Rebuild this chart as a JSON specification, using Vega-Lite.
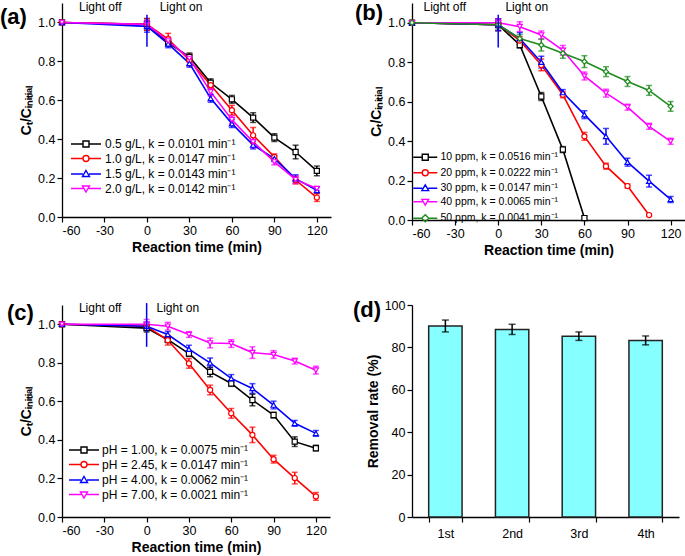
{
  "$schema": "https://vega.github.io/schema/vega-lite/v6.json",
  "background": "white",
  "padding": {"left": 0, "top": 1, "right": 1, "bottom": 1},
  "columns": 2,
  "bounds": "flush",
  "align": "each",
  "spacing": {"row": 85, "column": 81},
  "resolve": {"scale": {"color": "independent", "stroke": "independent", "shape": "independent"}, "legend": {"color": "independent", "stroke": "independent", "shape": "independent"}},
  "datasets": {
    "a": [
      {"t": -60, "s": "0.5 g/L, k = 0.0101 min⁻¹", "v": 1.0, "e": 0},
      {"t": 0, "s": "0.5 g/L, k = 0.0101 min⁻¹", "v": 0.99, "e": 0.03},
      {"t": 15, "s": "0.5 g/L, k = 0.0101 min⁻¹", "v": 0.895, "e": 0.015},
      {"t": 30, "s": "0.5 g/L, k = 0.0101 min⁻¹", "v": 0.823, "e": 0.02},
      {"t": 45, "s": "0.5 g/L, k = 0.0101 min⁻¹", "v": 0.69, "e": 0.02},
      {"t": 60, "s": "0.5 g/L, k = 0.0101 min⁻¹", "v": 0.605, "e": 0.02},
      {"t": 75, "s": "0.5 g/L, k = 0.0101 min⁻¹", "v": 0.511, "e": 0.025},
      {"t": 90, "s": "0.5 g/L, k = 0.0101 min⁻¹", "v": 0.408, "e": 0.02},
      {"t": 105, "s": "0.5 g/L, k = 0.0101 min⁻¹", "v": 0.334, "e": 0.035},
      {"t": 120, "s": "0.5 g/L, k = 0.0101 min⁻¹", "v": 0.237, "e": 0.025},
      {"t": -60, "s": "1.0 g/L, k = 0.0147 min⁻¹", "v": 1.0, "e": 0},
      {"t": 0, "s": "1.0 g/L, k = 0.0147 min⁻¹", "v": 0.99, "e": 0.03},
      {"t": 15, "s": "1.0 g/L, k = 0.0147 min⁻¹", "v": 0.914, "e": 0.03},
      {"t": 30, "s": "1.0 g/L, k = 0.0147 min⁻¹", "v": 0.806, "e": 0.03},
      {"t": 45, "s": "1.0 g/L, k = 0.0147 min⁻¹", "v": 0.678, "e": 0.02},
      {"t": 60, "s": "1.0 g/L, k = 0.0147 min⁻¹", "v": 0.549, "e": 0.025},
      {"t": 75, "s": "1.0 g/L, k = 0.0147 min⁻¹", "v": 0.42, "e": 0.04},
      {"t": 90, "s": "1.0 g/L, k = 0.0147 min⁻¹", "v": 0.309, "e": 0.015},
      {"t": 105, "s": "1.0 g/L, k = 0.0147 min⁻¹", "v": 0.19, "e": 0.02},
      {"t": 120, "s": "1.0 g/L, k = 0.0147 min⁻¹", "v": 0.10, "e": 0.02},
      {"t": -60, "s": "1.5 g/L, k = 0.0143 min⁻¹", "v": 1.0, "e": 0},
      {"t": 0, "s": "1.5 g/L, k = 0.0143 min⁻¹", "v": 0.98, "e": 0.03},
      {"t": 15, "s": "1.5 g/L, k = 0.0143 min⁻¹", "v": 0.89, "e": 0.02},
      {"t": 30, "s": "1.5 g/L, k = 0.0143 min⁻¹", "v": 0.79, "e": 0.02},
      {"t": 45, "s": "1.5 g/L, k = 0.0143 min⁻¹", "v": 0.61, "e": 0.02},
      {"t": 60, "s": "1.5 g/L, k = 0.0143 min⁻¹", "v": 0.48, "e": 0.02},
      {"t": 75, "s": "1.5 g/L, k = 0.0143 min⁻¹", "v": 0.37, "e": 0.02},
      {"t": 90, "s": "1.5 g/L, k = 0.0143 min⁻¹", "v": 0.30, "e": 0.015},
      {"t": 105, "s": "1.5 g/L, k = 0.0143 min⁻¹", "v": 0.197, "e": 0.02},
      {"t": 120, "s": "1.5 g/L, k = 0.0143 min⁻¹", "v": 0.137, "e": 0.015},
      {"t": -60, "s": "2.0 g/L, k = 0.0142 min⁻¹", "v": 1.0, "e": 0},
      {"t": 0, "s": "2.0 g/L, k = 0.0142 min⁻¹", "v": 0.99, "e": 0.02},
      {"t": 15, "s": "2.0 g/L, k = 0.0142 min⁻¹", "v": 0.905, "e": 0.02},
      {"t": 30, "s": "2.0 g/L, k = 0.0142 min⁻¹", "v": 0.815, "e": 0.02},
      {"t": 45, "s": "2.0 g/L, k = 0.0142 min⁻¹", "v": 0.643, "e": 0.02},
      {"t": 60, "s": "2.0 g/L, k = 0.0142 min⁻¹", "v": 0.50, "e": 0.02},
      {"t": 75, "s": "2.0 g/L, k = 0.0142 min⁻¹", "v": 0.386, "e": 0.03},
      {"t": 90, "s": "2.0 g/L, k = 0.0142 min⁻¹", "v": 0.283, "e": 0.015},
      {"t": 105, "s": "2.0 g/L, k = 0.0142 min⁻¹", "v": 0.192, "e": 0.02},
      {"t": 120, "s": "2.0 g/L, k = 0.0142 min⁻¹", "v": 0.146, "e": 0.01}
    ],
    "b": [
      {"t": -60, "s": "10 ppm, k = 0.0516 min⁻¹", "v": 1.0, "e": 0},
      {"t": 0, "s": "10 ppm, k = 0.0516 min⁻¹", "v": 0.99, "e": 0.03},
      {"t": 15, "s": "10 ppm, k = 0.0516 min⁻¹", "v": 0.887, "e": 0.015},
      {"t": 30, "s": "10 ppm, k = 0.0516 min⁻¹", "v": 0.626, "e": 0.02},
      {"t": 45, "s": "10 ppm, k = 0.0516 min⁻¹", "v": 0.357, "e": 0.015},
      {"t": 60, "s": "10 ppm, k = 0.0516 min⁻¹", "v": 0.01, "e": 0.01},
      {"t": -60, "s": "20 ppm, k = 0.0222 min⁻¹", "v": 1.0, "e": 0},
      {"t": 0, "s": "20 ppm, k = 0.0222 min⁻¹", "v": 0.99, "e": 0.03},
      {"t": 15, "s": "20 ppm, k = 0.0222 min⁻¹", "v": 0.91, "e": 0.02},
      {"t": 30, "s": "20 ppm, k = 0.0222 min⁻¹", "v": 0.786, "e": 0.03},
      {"t": 45, "s": "20 ppm, k = 0.0222 min⁻¹", "v": 0.635, "e": 0.015},
      {"t": 60, "s": "20 ppm, k = 0.0222 min⁻¹", "v": 0.424, "e": 0.02},
      {"t": 75, "s": "20 ppm, k = 0.0222 min⁻¹", "v": 0.273, "e": 0.015},
      {"t": 90, "s": "20 ppm, k = 0.0222 min⁻¹", "v": 0.172, "e": 0.01},
      {"t": 105, "s": "20 ppm, k = 0.0222 min⁻¹", "v": 0.025, "e": 0.005},
      {"t": -60, "s": "30 ppm, k = 0.0147 min⁻¹", "v": 1.0, "e": 0},
      {"t": 0, "s": "30 ppm, k = 0.0147 min⁻¹", "v": 0.99, "e": 0.03},
      {"t": 15, "s": "30 ppm, k = 0.0147 min⁻¹", "v": 0.92, "e": 0.03},
      {"t": 30, "s": "30 ppm, k = 0.0147 min⁻¹", "v": 0.80, "e": 0.03},
      {"t": 45, "s": "30 ppm, k = 0.0147 min⁻¹", "v": 0.646, "e": 0.015},
      {"t": 60, "s": "30 ppm, k = 0.0147 min⁻¹", "v": 0.534, "e": 0.02},
      {"t": 75, "s": "30 ppm, k = 0.0147 min⁻¹", "v": 0.424, "e": 0.04},
      {"t": 90, "s": "30 ppm, k = 0.0147 min⁻¹", "v": 0.293, "e": 0.02},
      {"t": 105, "s": "30 ppm, k = 0.0147 min⁻¹", "v": 0.197, "e": 0.03},
      {"t": 120, "s": "30 ppm, k = 0.0147 min⁻¹", "v": 0.104, "e": 0.015},
      {"t": -60, "s": "40 ppm, k = 0.0065 min⁻¹", "v": 1.0, "e": 0},
      {"t": 0, "s": "40 ppm, k = 0.0065 min⁻¹", "v": 1.0, "e": 0.02},
      {"t": 15, "s": "40 ppm, k = 0.0065 min⁻¹", "v": 0.98, "e": 0.025},
      {"t": 30, "s": "40 ppm, k = 0.0065 min⁻¹", "v": 0.938, "e": 0.02},
      {"t": 45, "s": "40 ppm, k = 0.0065 min⁻¹", "v": 0.86, "e": 0.025},
      {"t": 60, "s": "40 ppm, k = 0.0065 min⁻¹", "v": 0.73, "e": 0.02},
      {"t": 75, "s": "40 ppm, k = 0.0065 min⁻¹", "v": 0.643, "e": 0.02},
      {"t": 90, "s": "40 ppm, k = 0.0065 min⁻¹", "v": 0.572, "e": 0.015},
      {"t": 105, "s": "40 ppm, k = 0.0065 min⁻¹", "v": 0.475, "e": 0.015},
      {"t": 120, "s": "40 ppm, k = 0.0065 min⁻¹", "v": 0.399, "e": 0.015},
      {"t": -60, "s": "50 ppm, k = 0.0041 min⁻¹", "v": 1.0, "e": 0},
      {"t": 0, "s": "50 ppm, k = 0.0041 min⁻¹", "v": 0.99, "e": 0.02},
      {"t": 15, "s": "50 ppm, k = 0.0041 min⁻¹", "v": 0.92, "e": 0.02},
      {"t": 30, "s": "50 ppm, k = 0.0041 min⁻¹", "v": 0.887, "e": 0.03},
      {"t": 45, "s": "50 ppm, k = 0.0041 min⁻¹", "v": 0.845, "e": 0.025},
      {"t": 60, "s": "50 ppm, k = 0.0041 min⁻¹", "v": 0.803, "e": 0.03},
      {"t": 75, "s": "50 ppm, k = 0.0041 min⁻¹", "v": 0.752, "e": 0.025},
      {"t": 90, "s": "50 ppm, k = 0.0041 min⁻¹", "v": 0.702, "e": 0.025},
      {"t": 105, "s": "50 ppm, k = 0.0041 min⁻¹", "v": 0.657, "e": 0.025},
      {"t": 120, "s": "50 ppm, k = 0.0041 min⁻¹", "v": 0.576, "e": 0.025}
    ],
    "c": [
      {"t": -60, "s": "pH = 1.00, k = 0.0075 min⁻¹", "v": 1.0, "e": 0},
      {"t": 0, "s": "pH = 1.00, k = 0.0075 min⁻¹", "v": 0.98, "e": 0.02},
      {"t": 15, "s": "pH = 1.00, k = 0.0075 min⁻¹", "v": 0.92, "e": 0.015},
      {"t": 30, "s": "pH = 1.00, k = 0.0075 min⁻¹", "v": 0.848, "e": 0.015},
      {"t": 45, "s": "pH = 1.00, k = 0.0075 min⁻¹", "v": 0.753, "e": 0.025},
      {"t": 60, "s": "pH = 1.00, k = 0.0075 min⁻¹", "v": 0.693, "e": 0.015},
      {"t": 75, "s": "pH = 1.00, k = 0.0075 min⁻¹", "v": 0.607, "e": 0.03},
      {"t": 90, "s": "pH = 1.00, k = 0.0075 min⁻¹", "v": 0.529, "e": 0.015},
      {"t": 105, "s": "pH = 1.00, k = 0.0075 min⁻¹", "v": 0.391, "e": 0.025},
      {"t": 120, "s": "pH = 1.00, k = 0.0075 min⁻¹", "v": 0.357, "e": 0.015},
      {"t": -60, "s": "pH = 2.45, k = 0.0147 min⁻¹", "v": 1.0, "e": 0},
      {"t": 0, "s": "pH = 2.45, k = 0.0147 min⁻¹", "v": 0.99, "e": 0.02},
      {"t": 15, "s": "pH = 2.45, k = 0.0147 min⁻¹", "v": 0.917, "e": 0.025},
      {"t": 30, "s": "pH = 2.45, k = 0.0147 min⁻¹", "v": 0.797, "e": 0.025},
      {"t": 45, "s": "pH = 2.45, k = 0.0147 min⁻¹", "v": 0.659, "e": 0.025},
      {"t": 60, "s": "pH = 2.45, k = 0.0147 min⁻¹", "v": 0.538, "e": 0.025},
      {"t": 75, "s": "pH = 2.45, k = 0.0147 min⁻¹", "v": 0.426, "e": 0.04},
      {"t": 90, "s": "pH = 2.45, k = 0.0147 min⁻¹", "v": 0.30, "e": 0.02},
      {"t": 105, "s": "pH = 2.45, k = 0.0147 min⁻¹", "v": 0.202, "e": 0.03},
      {"t": 120, "s": "pH = 2.45, k = 0.0147 min⁻¹", "v": 0.107, "e": 0.02},
      {"t": -60, "s": "pH = 4.00, k = 0.0062 min⁻¹", "v": 1.0, "e": 0},
      {"t": 0, "s": "pH = 4.00, k = 0.0062 min⁻¹", "v": 0.99, "e": 0.02},
      {"t": 15, "s": "pH = 4.00, k = 0.0062 min⁻¹", "v": 0.947, "e": 0.015},
      {"t": 30, "s": "pH = 4.00, k = 0.0062 min⁻¹", "v": 0.871, "e": 0.02},
      {"t": 45, "s": "pH = 4.00, k = 0.0062 min⁻¹", "v": 0.80, "e": 0.025},
      {"t": 60, "s": "pH = 4.00, k = 0.0062 min⁻¹", "v": 0.719, "e": 0.02},
      {"t": 75, "s": "pH = 4.00, k = 0.0062 min⁻¹", "v": 0.667, "e": 0.025},
      {"t": 90, "s": "pH = 4.00, k = 0.0062 min⁻¹", "v": 0.581, "e": 0.02},
      {"t": 105, "s": "pH = 4.00, k = 0.0062 min⁻¹", "v": 0.486, "e": 0.015},
      {"t": 120, "s": "pH = 4.00, k = 0.0062 min⁻¹", "v": 0.434, "e": 0.015},
      {"t": -60, "s": "pH = 7.00, k = 0.0021 min⁻¹", "v": 1.0, "e": 0},
      {"t": 0, "s": "pH = 7.00, k = 0.0021 min⁻¹", "v": 1.0, "e": 0.025},
      {"t": 15, "s": "pH = 7.00, k = 0.0021 min⁻¹", "v": 0.99, "e": 0.02},
      {"t": 30, "s": "pH = 7.00, k = 0.0021 min⁻¹", "v": 0.947, "e": 0.015},
      {"t": 45, "s": "pH = 7.00, k = 0.0021 min⁻¹", "v": 0.903, "e": 0.025},
      {"t": 60, "s": "pH = 7.00, k = 0.0021 min⁻¹", "v": 0.90, "e": 0.02},
      {"t": 75, "s": "pH = 7.00, k = 0.0021 min⁻¹", "v": 0.853, "e": 0.03},
      {"t": 90, "s": "pH = 7.00, k = 0.0021 min⁻¹", "v": 0.843, "e": 0.02},
      {"t": 105, "s": "pH = 7.00, k = 0.0021 min⁻¹", "v": 0.809, "e": 0.015},
      {"t": 120, "s": "pH = 7.00, k = 0.0021 min⁻¹", "v": 0.762, "e": 0.02}
    ],
    "d": [
      {"run": "1st", "rate": 90.1, "err": 2.8},
      {"run": "2nd", "rate": 88.5, "err": 2.4},
      {"run": "3rd", "rate": 85.3, "err": 2.0},
      {"run": "4th", "rate": 83.3, "err": 2.1}
    ]
  },
  "concat": [
    {
      "width": 269, "height": 214,
      "title": {"text": "(a)", "anchor": "start", "frame": "group", "offset": -50, "baseline": "bottom", "dx": -62, "fontSize": 22, "fontWeight": "bold", "color": "#000"},
      "data": {"name": "a"},
      "encoding": {
        "x": {"field": "t", "type": "quantitative", "scale": {"domain": [-60, 130], "nice": false}, "axis": {"title": "Reaction time (min)", "values": [-60, -30, 0, 30, 60, 90, 120], "labelExpr": "'' + datum.value"}},
        "y": {"field": "v", "type": "quantitative", "scale": {"domain": [0, 1.1], "nice": false}, "axis": {"title": "Cₜ/Cᵢₙᵢₜᵢₐₗ", "values": [0, 0.2, 0.4, 0.6, 0.8, 1.0], "format": ".1f"}}
      },
      "layer": [
        {
          "mark": {"type": "line", "strokeWidth": 1.6},
          "encoding": {
            "color": {"field": "s", "type": "nominal", "scale": {"domain": ["0.5 g/L, k = 0.0101 min⁻¹", "1.0 g/L, k = 0.0147 min⁻¹", "1.5 g/L, k = 0.0143 min⁻¹", "2.0 g/L, k = 0.0142 min⁻¹"], "range": ["#000000", "#FF0000", "#0000FF", "#FF00FF"]},
              "legend": {"orient": "none", "legendX": 18, "legendY": 135, "title": null, "symbolType": "stroke", "symbolSize": 100, "symbolStrokeWidth": 1.4, "symbolFillColor": "white", "labelFontSize": 12, "labelOffset": 13, "rowPadding": 2.5, "padding": 0, "labelLimit": 300, "labelColor": "#000",
                "encode": {"symbols": {"update": {"fill": {"value": "white"}, "fillOpacity": {"value": 0}, "shape": {"signal": "['M-3,0H-0.6M0.6,0H3M-0.6,-0.6H0.6V0.6H-0.6Z','M-3,0H-0.6M0.6,0H3M0.6,0A0.6,0.6,0,1,1,-0.6,0A0.6,0.6,0,1,1,0.6,0Z','M-3,0H-0.6M0.6,0H3M0,-0.7L0.7,0.5H-0.7Z','M-3,0H-0.6M0.6,0H3M0,0.7L0.7,-0.5H-0.7Z','M-3,0H-0.7M0.7,0H3M0,-0.75L0.75,0L0,0.75L-0.75,0Z'][datum.index]"}}}}}
            }
          }
        },
        {
          "mark": {"type": "errorbar", "ticks": {"size": 6}, "thickness": 1.5},
          "encoding": {"yError": {"field": "e"}, "color": {"field": "s", "type": "nominal"}}
        },
        {
          "mark": {"type": "point", "filled": true, "fill": "white", "size": 26, "strokeWidth": 1.2, "opacity": 1},
          "encoding": {
            "stroke": {"field": "s", "type": "nominal", "legend": null, "scale": {"range": ["#000000", "#FF0000", "#0000FF", "#FF00FF"]}},
            "shape": {"field": "s", "type": "nominal", "legend": null, "scale": {"range": ["square", "circle", "triangle-up", "triangle-down"]}}
          }
        },
        {
          "data": {"values": [{"t": 0, "v": 1.04, "v2": 0.875}]},
          "mark": {"type": "rule", "color": "#0000FF", "strokeWidth": 1.5},
          "encoding": {"y2": {"field": "v2"}}
        },
        {
          "data": {"values": [{"t": -48, "v": 1.078, "label": "Light off"}, {"t": 9, "v": 1.078, "label": "Light on"}]},
          "mark": {"type": "text", "align": "left", "baseline": "middle", "fontSize": 12, "color": "#000"},
          "encoding": {"text": {"field": "label"}}
        }
      ]
    },
    {
      "width": 273, "height": 217,
      "title": {"text": "(b)", "anchor": "start", "frame": "group", "offset": -46, "baseline": "bottom", "dx": -57, "fontSize": 22, "fontWeight": "bold", "color": "#000"},
      "data": {"name": "b"},
      "encoding": {
        "x": {"field": "t", "type": "quantitative", "scale": {"domain": [-60, 130], "nice": false}, "axis": {"title": "Reaction time (min)", "values": [-60, -30, 0, 30, 60, 90, 120], "labelExpr": "'' + datum.value"}},
        "y": {"field": "v", "type": "quantitative", "scale": {"domain": [0, 1.1], "nice": false}, "axis": {"title": "Cₜ/Cᵢₙᵢₜᵢₐₗ", "values": [0, 0.2, 0.4, 0.6, 0.8, 1.0], "format": ".1f"}}
      },
      "layer": [
        {
          "mark": {"type": "line", "strokeWidth": 1.6},
          "encoding": {
            "color": {"field": "s", "type": "nominal", "scale": {"domain": ["10 ppm, k = 0.0516 min⁻¹", "20 ppm, k = 0.0222 min⁻¹", "30 ppm, k = 0.0147 min⁻¹", "40 ppm, k = 0.0065 min⁻¹", "50 ppm, k = 0.0041 min⁻¹"], "range": ["#000000", "#FF0000", "#0000FF", "#FF00FF", "#1E8C1E"]},
              "legend": {"orient": "none", "legendX": 8, "legendY": 149, "title": null, "symbolType": "stroke", "symbolSize": 64, "symbolStrokeWidth": 1.4, "symbolFillColor": "white", "labelFontSize": 10.5, "labelOffset": 10, "rowPadding": 2.5, "padding": 0, "labelLimit": 300, "labelColor": "#000",
                "encode": {"symbols": {"update": {"fill": {"value": "white"}, "fillOpacity": {"value": 0}, "shape": {"signal": "['M-3,0H-0.75M0.75,0H3M-0.75,-0.75H0.75V0.75H-0.75Z','M-3,0H-0.75M0.75,0H3M0.75,0A0.75,0.75,0,1,1,-0.75,0A0.75,0.75,0,1,1,0.75,0Z','M-3,0H-0.75M0.75,0H3M0,-0.85L0.85,0.6H-0.85Z','M-3,0H-0.75M0.75,0H3M0,0.85L0.85,-0.6H-0.85Z','M-3,0H-0.85M0.85,0H3M0,-0.9L0.9,0L0,0.9L-0.9,0Z'][datum.index]"}}}}}
            }
          }
        },
        {
          "mark": {"type": "errorbar", "ticks": {"size": 6}, "thickness": 1.5},
          "encoding": {"yError": {"field": "e"}, "color": {"field": "s", "type": "nominal"}}
        },
        {
          "mark": {"type": "point", "filled": true, "fill": "white", "size": 26, "strokeWidth": 1.2, "opacity": 1},
          "encoding": {
            "stroke": {"field": "s", "type": "nominal", "legend": null, "scale": {"range": ["#000000", "#FF0000", "#0000FF", "#FF00FF", "#1E8C1E"]}},
            "shape": {"field": "s", "type": "nominal", "legend": null, "scale": {"range": ["square", "circle", "triangle-up", "triangle-down", "diamond"]}}
          }
        },
        {
          "data": {"values": [{"t": 0, "v": 1.04, "v2": 0.875}]},
          "mark": {"type": "rule", "color": "#0000FF", "strokeWidth": 1.5},
          "encoding": {"y2": {"field": "v2"}}
        },
        {
          "data": {"values": [{"t": -52, "v": 1.079, "label": "Light off"}, {"t": 5, "v": 1.079, "label": "Light on"}]},
          "mark": {"type": "text", "align": "left", "baseline": "middle", "fontSize": 12, "color": "#000"},
          "encoding": {"text": {"field": "label"}}
        }
      ]
    },
    {
      "width": 268, "height": 212,
      "title": {"text": "(c)", "anchor": "start", "frame": "group", "offset": -45, "baseline": "bottom", "dx": -55, "fontSize": 22, "fontWeight": "bold", "color": "#000"},
      "data": {"name": "c"},
      "encoding": {
        "x": {"field": "t", "type": "quantitative", "scale": {"domain": [-60, 130], "nice": false}, "axis": {"title": "Reaction time (min)", "values": [-60, -30, 0, 30, 60, 90, 120], "labelExpr": "'' + datum.value"}},
        "y": {"field": "v", "type": "quantitative", "scale": {"domain": [0, 1.1], "nice": false}, "axis": {"title": "Cₜ/Cᵢₙᵢₜᵢₐₗ", "values": [0, 0.2, 0.4, 0.6, 0.8, 1.0], "format": ".1f"}}
      },
      "layer": [
        {
          "mark": {"type": "line", "strokeWidth": 1.6},
          "encoding": {
            "color": {"field": "s", "type": "nominal", "scale": {"domain": ["pH = 1.00, k = 0.0075 min⁻¹", "pH = 2.45, k = 0.0147 min⁻¹", "pH = 4.00, k = 0.0062 min⁻¹", "pH = 7.00, k = 0.0021 min⁻¹"], "range": ["#000000", "#FF0000", "#0000FF", "#FF00FF"]},
              "legend": {"orient": "none", "legendX": 16, "legendY": 139, "title": null, "symbolType": "stroke", "symbolSize": 100, "symbolStrokeWidth": 1.4, "symbolFillColor": "white", "labelFontSize": 12, "labelOffset": 12, "rowPadding": 2.5, "padding": 0, "labelLimit": 300, "labelColor": "#000",
                "encode": {"symbols": {"update": {"fill": {"value": "white"}, "fillOpacity": {"value": 0}, "shape": {"signal": "['M-3,0H-0.6M0.6,0H3M-0.6,-0.6H0.6V0.6H-0.6Z','M-3,0H-0.6M0.6,0H3M0.6,0A0.6,0.6,0,1,1,-0.6,0A0.6,0.6,0,1,1,0.6,0Z','M-3,0H-0.6M0.6,0H3M0,-0.7L0.7,0.5H-0.7Z','M-3,0H-0.6M0.6,0H3M0,0.7L0.7,-0.5H-0.7Z'][datum.index]"}}}}}
            }
          }
        },
        {
          "mark": {"type": "errorbar", "ticks": {"size": 6}, "thickness": 1.5},
          "encoding": {"yError": {"field": "e"}, "color": {"field": "s", "type": "nominal"}}
        },
        {
          "mark": {"type": "point", "filled": true, "fill": "white", "size": 26, "strokeWidth": 1.2, "opacity": 1},
          "encoding": {
            "stroke": {"field": "s", "type": "nominal", "legend": null, "scale": {"range": ["#000000", "#FF0000", "#0000FF", "#FF00FF"]}},
            "shape": {"field": "s", "type": "nominal", "legend": null, "scale": {"range": ["square", "circle", "triangle-up", "triangle-down"]}}
          }
        },
        {
          "data": {"values": [{"t": 0, "v": 1.11, "v2": 0.883}]},
          "mark": {"type": "rule", "color": "#0000FF", "strokeWidth": 1.5},
          "encoding": {"y2": {"field": "v2"}}
        },
        {
          "data": {"values": [{"t": -48, "v": 1.083, "label": "Light off"}, {"t": 7, "v": 1.083, "label": "Light on"}]},
          "mark": {"type": "text", "align": "left", "baseline": "middle", "fontSize": 12, "color": "#000"},
          "encoding": {"text": {"field": "label"}}
        }
      ]
    },
    {
      "width": 267, "height": 212,
      "title": {"text": "(d)", "anchor": "start", "frame": "group", "offset": -45, "baseline": "bottom", "dx": -59, "fontSize": 22, "fontWeight": "bold", "color": "#000"},
      "data": {"name": "d"},
      "encoding": {
        "x": {"field": "run", "type": "nominal", "sort": null, "scale": {"paddingInner": 0.5, "paddingOuter": 0.25}, "axis": {"title": null, "labelAngle": 0, "tickBand": "extent", "labelPadding": 5}},
        "y": {"field": "rate", "type": "quantitative", "scale": {"domain": [0, 100], "nice": false}, "axis": {"title": "Removal rate (%)", "values": [0, 20, 40, 60, 80, 100]}}
      },
      "layer": [
        {"mark": {"type": "bar", "fill": "#85FFFF", "stroke": "#222222", "strokeWidth": 1.5}},
        {"mark": {"type": "errorbar", "ticks": {"size": 7}, "thickness": 1.5, "color": "#000"}, "encoding": {"yError": {"field": "err"}}}
      ]
    }
  ],
  "config": {
    "font": "Liberation Sans",
    "view": {"stroke": null},
    "axis": {"grid": false, "domainColor": "#000", "domainWidth": 1.3, "tickColor": "#000", "tickSize": 5, "tickWidth": 1.2, "labelFontSize": 12.5, "labelColor": "#000", "labelFont": "Liberation Sans", "titleFont": "Liberation Sans", "titleFontSize": 14, "titleFontWeight": "bold", "titleColor": "#000", "labelPadding": 2, "titlePadding": 4}
  }
}
